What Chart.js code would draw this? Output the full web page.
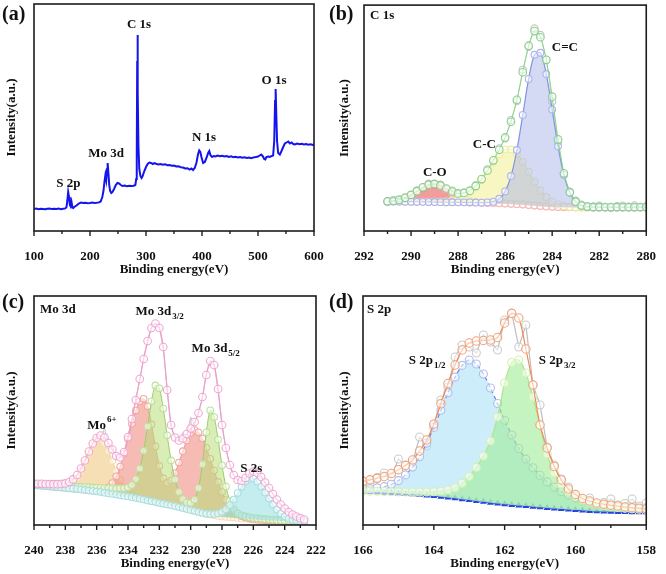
<!DOCTYPE html>
<html><head><meta charset="utf-8">
<script src="https://cdn.jsdelivr.net/npm/chart.js@4"></script>
<style>
html,body{margin:0;padding:0;background:#fff;}
#wrap{position:relative;width:666px;height:574px;background:#fff;}
canvas{position:absolute;left:0;top:0;}
</style></head><body>
<div id="wrap">
<canvas id="ca" width="666" height="574"></canvas>
<canvas id="cb" width="666" height="574"></canvas>
<canvas id="cc" width="666" height="574"></canvas>
<canvas id="cd" width="666" height="574"></canvas>
</div>
<script>
// ---------- (a) survey ----------
const surveyE = [100,104,108,112,116,120,124,128,132,136,140,144,148,152,156,158,159.5,161,162.5,164,165.5,167,168.5,170,173,176,180,184,188,192,196,200,204,208,212,216,219,222,224,226,227.5,229,230.5,231.5,233,234.5,236,238,240,243,246,249,252,255,258,262,266,270,274,278,281,282.5,283.5,284.3,284.8,285.5,286.5,288,290,292,294,297,300,303,306,309,312,315,318,322,326,330,334,338,342,346,350,354,358,362,366,370,374,378,381,384,387,390,393,395,397,399,402,405,408,411,413,415,418,421,424,428,432,436,440,444,448,452,456,460,464,468,472,476,480,484,488,492,496,500,503,506,509,511,513,515,518,521,524,527,529,530.5,531.5,532.5,534,536,539,542,545,548,551,554,557,560,563,566,570,574,578,582,586,590,594,598,600];
const surveyI = [22.0,22.4,21.8,22.3,22.0,21.7,22.2,22.5,21.9,22.2,22.0,22.4,21.8,22.3,22.6,24.0,30.0,39.0,34.0,26.0,24.5,29.0,24.0,23.0,24.5,25.5,27.5,28.5,28.0,28.3,27.8,28.0,28.4,28.0,28.2,28.6,29.5,34.0,40.0,50.0,56.0,51.0,62.0,68.0,57.0,45.0,40.0,38.0,39.0,42.0,46.0,48.0,47.5,46.0,45.0,45.5,44.8,45.2,44.9,45.3,46.0,52.0,75.0,170.0,196.0,140.0,85.0,62.0,55.0,53.0,55.0,60.0,64.0,67.0,68.5,68.0,67.0,67.8,67.2,66.5,67.0,66.2,66.8,65.8,66.0,65.2,65.5,64.5,64.8,63.8,63.5,62.5,62.8,61.5,62.5,61.0,63.0,68.0,77.0,80.5,79.0,74.0,68.0,69.0,73.0,78.0,80.0,76.0,74.0,75.0,74.5,75.5,74.8,75.3,74.5,75.0,74.0,74.6,73.8,74.3,73.5,74.0,73.2,73.8,73.0,73.5,72.8,73.6,73.9,74.5,75.5,76.5,74.5,72.0,71.5,74.0,74.5,74.0,74.8,75.5,90.0,130.0,142.0,120.0,90.0,78.0,76.5,80.0,84.0,87.5,88.5,89.5,87.5,88.5,87.0,86.5,87.5,86.8,87.2,86.5,87.0,86.3,86.8,86.0,86.4];
const ticksA = [100,200,300,400,500,600];
const minorA = [150,250,350,450,550];
const labelsA = [
  {t:'S 2p', x:161.3, y:47.7}, {t:'Mo 3d', x:228.6, y:77}, {t:'C 1s', x:287.5, y:206},
  {t:'N 1s', x:403.6, y:93.7}, {t:'O 1s', x:528.6, y:150.3}];

// ---------- (b) C 1s ----------
const eB = [291,290.75,290.5,290.25,290,289.75,289.5,289.25,289,288.75,288.5,288.25,288,287.75,287.5,287.25,287,286.75,286.5,286.25,286,285.75,285.5,285.25,285,284.75,284.5,284.25,284,283.75,283.5,283.25,283,282.75,282.5,282.25,282,281.75,281.5,281.25,281,280.75,280.5,280.25,280];
const rawB = [29.0,31.0,30.8,33.8,35.5,40.8,43.0,47.5,46.5,46.5,41.8,40.5,37.0,38.8,40.0,46.0,51.5,62.0,70.0,83.0,93.0,111.5,130.5,162.0,185.0,203.5,197.0,172.0,130.0,89.5,56.5,39.5,30.5,26.5,25.0,24.5,25.5,24.0,23.0,25.0,25.5,24.5,25.8,24.2,25.0];
const envB = [29.9,30.4,31.5,33.3,36.3,40.0,43.9,46.6,47.3,45.8,42.7,39.7,37.8,38.2,40.5,45.1,52.2,60.8,71.0,81.6,94.0,109.8,131.9,159.5,186.2,200.9,194.7,172.0,135.0,92.0,58.0,38.9,29.5,25.5,24.5,24.2,24.2,24.1,24.1,24.1,24.1,24.1,24.1,24.1,24.1];
const bgB = [29.6,29.6,29.6,29.5,29.5,29.4,29.3,29.2,29.1,29.0,28.9,28.9,28.8,28.8,28.7,28.6,28.5,28.3,28.1,27.9,27.6,27.3,27.0,26.6,26.1,25.6,25.1,24.7,24.3,24.1,23.9,23.8,23.7,23.7,23.7,23.6,23.6,23.6,23.6,23.6,23.6,23.6,23.6,23.6,23.6];
const coB = [29.9,30.4,31.5,33.3,36.3,40.0,43.8,46.4,47.0,45.3,41.9,37.9,34.3,31.7,30.0,29.1,28.7,28.4,28.1,27.9,27.6,27.3,27.0,26.6,26.1,25.6,25.1,24.7,24.3,24.1,23.9,23.8,23.7,23.7,23.7,23.6,23.6,23.6,23.6,23.6,23.6,23.6,23.6,23.6,23.6];
const ccB = [29.6,29.6,29.6,29.5,29.5,29.4,29.4,29.4,29.4,29.5,29.7,30.7,32.3,35.3,39.2,44.6,52.0,60.3,69.6,77.1,81.8,81.9,77.5,69.5,59.5,49.4,40.7,34.1,29.4,26.7,25.1,24.3,23.9,23.7,23.7,23.6,23.6,23.6,23.6,23.6,23.6,23.6,23.6,23.6,23.6];
const cdB = [29.6,29.6,29.6,29.5,29.5,29.4,29.3,29.2,29.1,29.0,28.9,28.9,28.8,28.8,28.7,28.6,28.5,28.7,29.5,32.4,39.8,55.2,81.4,116.6,152.8,177.1,179.1,157.7,122.0,85.1,56.3,38.4,29.3,25.5,24.0,23.6,23.6,23.6,23.6,23.6,23.6,23.6,23.6,23.6,23.6];
const ticksB = [292,290,288,286,284,282,280];
const minorB = [291,289,287,285,283,281];
const labelsB = [{t:'C-O', x:288.99, y:58.7}, {t:'C-C', x:286.88, y:87}, {t:'C=C', x:283.46, y:184.3}];

// ---------- (c) Mo 3d ----------
const eC = [240,239.75,239.5,239.25,239,238.75,238.5,238.25,238,237.75,237.5,237.25,237,236.75,236.5,236.25,236,235.75,235.5,235.25,235,234.75,234.5,234.25,234,233.75,233.5,233.25,233,232.75,232.5,232.25,232,231.75,231.5,231.25,231,230.75,230.5,230.25,230,229.75,229.5,229.25,229,228.75,228.5,228.25,228,227.75,227.5,227.25,227,226.75,226.5,226.25,226,225.75,225.5,225.25,225,224.75,224.5,224.25,224,223.75,223.5,223.25,223,222.75];
const rawC = [41.5,42.8,40.5,41.8,44.5,40.2,41.5,45.5,41.0,43.5,46.5,49.0,58.0,62.5,75.0,80.0,90.0,86.0,97.0,80.0,79.0,66.0,70.0,71.0,90.0,104.0,127.0,144.0,168.0,182.0,199.0,200.0,198.0,176.0,137.0,98.0,89.0,83.0,92.0,90.0,108.0,100.0,114.0,126.0,152.0,162.0,161.0,134.0,102.0,75.5,61.0,49.0,46.0,43.0,48.0,50.5,55.0,51.0,49.0,41.5,38.0,30.0,26.5,19.5,17.5,12.0,11.0,8.0,7.5,5.0];
const envC = [41.3,41.2,41.2,41.0,40.9,40.8,40.8,41.0,41.6,43.0,45.6,50.0,56.5,64.5,73.5,81.5,87.0,89.5,87.5,82.0,75.5,69.0,67.5,73.0,88.0,106.0,125.0,146.0,166.0,184.0,197.0,201.5,197.0,178.0,135.0,100.0,87.5,84.5,86.5,91.0,96.5,103.0,112.0,128.0,150.0,164.0,160.0,136.0,100.0,77.0,60.0,50.0,45.0,44.0,47.0,51.5,53.5,52.0,48.0,42.5,37.0,31.0,25.5,20.5,16.5,13.0,10.5,8.5,6.8,5.5];
const bgC = [40.0,39.6,39.3,38.9,38.5,38.1,37.8,37.4,37.0,36.6,36.3,35.9,35.5,35.0,34.5,34.0,33.5,32.9,32.3,31.6,31.0,30.4,29.8,29.1,28.5,27.8,27.0,26.3,25.5,24.6,23.8,22.9,22.0,21.3,20.5,19.8,19.0,18.0,17.0,16.0,15.0,14.0,13.0,12.0,11.0,10.4,9.8,9.1,8.5,8.1,7.8,7.4,7.0,6.6,6.3,5.9,5.5,5.3,5.0,4.8,4.5,4.4,4.3,4.1,4.0,3.9,3.8,3.6,3.5,3.4];
const mo6C = [40.0,39.6,39.3,38.9,38.5,38.2,38.0,38.0,38.4,39.7,42.5,47.0,53.7,62.1,71.3,79.6,84.9,85.8,81.9,74.0,63.9,53.7,44.9,38.0,33.3,30.1,28.0,26.7,25.7,24.6,23.8,22.9,22.0,21.3,20.5,19.8,19.0,18.0,17.0,16.0,15.0,14.0,13.0,12.0,11.0,10.4,9.8,9.1,8.5,8.1,7.8,7.4,7.0,6.6,6.3,5.9,5.5,5.3,5.0,4.8,4.5,4.4,4.3,4.1,4.0,3.9,3.8,3.6,3.5,3.4];
const redC = [40.0,39.6,39.3,38.9,38.5,38.1,37.8,37.4,37.0,36.6,36.3,35.9,35.5,35.1,34.6,34.3,34.2,34.4,35.4,37.7,41.9,48.7,58.5,71.2,86.1,101.2,114.4,123.4,126.2,118.8,100.6,78.6,59.1,46.8,42.1,44.5,52.0,62.4,73.8,84.5,92.0,94.9,92.7,86.5,77.2,66.2,54.5,43.1,33.0,24.9,18.8,14.2,11.0,8.8,7.5,6.5,5.8,5.3,5.0,4.8,4.5,4.4,4.3,4.1,4.0,3.9,3.8,3.6,3.5,3.4];
const greenC = [41.2,40.9,40.6,40.3,40.0,39.7,39.4,39.1,38.9,38.7,38.5,38.3,38.1,37.9,37.8,37.6,37.4,37.2,37.0,36.8,36.7,36.6,36.7,36.8,37.5,40.0,46.0,56.5,74.3,98.6,123.7,139.6,136.7,116.5,89.7,64.6,45.6,33.1,26.0,22.5,21.9,25.3,37.0,60.8,92.7,114.7,107.9,85.4,59.7,38.4,24.2,15.9,11.8,9.7,8.6,7.7,7.0,6.6,6.2,5.8,5.4,5.2,5.0,4.8,4.6,4.5,4.3,4.1,3.9,3.8];
const s2sC = [40.0,39.6,39.3,38.9,38.5,38.1,37.8,37.4,37.0,36.6,36.3,35.9,35.5,35.0,34.5,34.0,33.5,32.9,32.3,31.6,31.0,30.4,29.8,29.1,28.5,27.8,27.0,26.3,25.5,24.6,23.8,22.9,22.0,21.3,20.5,19.8,19.0,18.0,17.0,16.0,15.0,14.0,13.0,12.0,11.2,10.9,11.0,11.5,12.9,15.7,20.0,25.5,31.9,38.2,43.4,46.3,46.3,43.3,38.5,32.5,26.5,20.5,15.5,11.5,8.5,6.5,5.2,4.4,3.9,3.6];
const ticksC = [240,238,236,234,232,230,228,226,224,222];
const minorC = [239,237,235,233,231,229,227,225,223];
const labelsC = [
  {t:'Mo 3d', sub:'3/2', x:231.98, y:213}, {t:'Mo 3d', sub:'5/2', x:228.4, y:176.3},
  {t:'Mo', sup:'6+', x:235.66, y:99.7}, {t:'S 2s', x:226.13, y:56.3}];

// ---------- (d) S 2p ----------
const eD = [166,165.8,165.6,165.4,165.2,165,164.8,164.6,164.4,164.2,164,163.8,163.6,163.4,163.2,163,162.8,162.6,162.4,162.2,162,161.8,161.6,161.4,161.2,161,160.8,160.6,160.4,160.2,160,159.8,159.6,159.4,159.2,159,158.8,158.6,158.4,158.2,158];
const rawD = [40.0,42.0,47.5,52.0,48.0,66.0,60.0,63.0,88.0,79.0,100.0,125.0,138.0,168.0,180.0,178.0,172.0,190.0,183.0,175.0,205.0,212.0,178.0,200.0,140.0,120.0,78.0,60.0,46.0,38.0,30.0,25.0,27.0,20.0,22.5,26.0,20.0,21.5,26.0,19.0,22.0];
const envD = [43.7,45.2,46.7,48.5,51.5,55.3,59.5,65.0,74.0,85.0,101.0,121.3,141.5,160.0,175.0,182.0,184.0,184.5,185.0,187.5,202.0,211.5,207.0,176.0,140.0,100.0,77.0,58.5,45.0,36.0,30.5,26.5,24.0,22.0,20.8,19.8,19.0,18.0,17.3,16.8,16.3];
const bgD = [33.3,33.0,32.7,32.3,31.9,31.5,31.1,30.7,30.2,29.6,29.0,28.3,27.5,26.7,25.8,25.0,24.1,23.2,22.3,21.5,20.8,20.1,19.5,18.9,18.3,17.7,17.1,16.5,15.9,15.4,14.9,14.5,14.1,13.7,13.4,13.2,13.0,12.9,12.8,12.7,12.7];
const p12D = [35.9,36.3,37.1,38.4,40.7,44.4,50.1,57.9,68.5,81.9,97.6,114.8,132.2,147.9,159.6,165.0,161.0,151.0,137.0,121.5,104.8,90.0,76.5,65.9,57.3,49.7,43.1,38.0,33.4,29.9,26.9,24.5,22.4,20.7,19.4,18.4,17.5,16.9,16.4,16.0,15.7];
const p32D = [34.1,33.9,33.7,33.5,33.3,33.1,33.0,33.0,33.0,33.0,33.3,33.8,35.0,37.2,41.8,48.5,57.6,69.0,84.0,108.0,142.0,162.5,165.0,152.0,128.0,99.0,71.0,52.0,40.5,33.5,28.5,25.0,22.5,20.8,19.5,18.5,17.6,16.9,16.3,15.9,15.6];
const ticksD = [166,164,162,160,158];
const minorD = [165,163,161,159];
const labelsD = [{t:'S 2p', sub:'1/2', x:164.19, y:164.7}, {t:'S 2p', sub:'3/2', x:160.52, y:164.7}];

// ---------- helpers ----------
const SERIF = '"Liberation Serif","Times New Roman",serif';
function pts(xs, ys){ return xs.map((x,i)=>({x:x, y:ys[i]})); }

function drawRich(ctx, cx, cy, l){
  const mainF = 'bold 13px '+SERIF, smallF = 'bold 9px '+SERIF;
  ctx.font = mainF; const w1 = ctx.measureText(l.t).width;
  let w2 = 0; const extra = l.sub || l.sup;
  if (extra){ ctx.font = smallF; w2 = ctx.measureText(extra).width + 1; }
  let x0 = cx - (w1+w2)/2;
  ctx.textAlign = 'left'; ctx.textBaseline = 'middle';
  ctx.font = mainF; ctx.fillText(l.t, x0, cy);
  if (l.sub){ ctx.font = smallF; ctx.fillText(l.sub, x0+w1+1, cy+5); }
  if (l.sup){ ctx.font = smallF; ctx.fillText(l.sup, x0+w1+1, cy-6); }
}

const annot = {
  id:'annot',
  afterDraw(chart, args, o){
    const ctx = chart.ctx, ca = chart.chartArea, xs = chart.scales.x, ys = chart.scales.y;
    ctx.save();
    ctx.strokeStyle = '#1c1c1c'; ctx.lineWidth = 1.6;
    ctx.strokeRect(ca.left, ca.top, ca.right-ca.left, ca.bottom-ca.top);
    ctx.lineWidth = 1.4;
    o.major.forEach(v=>{ const p = xs.getPixelForValue(v); ctx.beginPath(); ctx.moveTo(p, ca.bottom); ctx.lineTo(p, ca.bottom+5); ctx.stroke(); });
    o.minor.forEach(v=>{ const p = xs.getPixelForValue(v); ctx.beginPath(); ctx.moveTo(p, ca.bottom); ctx.lineTo(p, ca.bottom+3); ctx.stroke(); });
    ctx.fillStyle = '#111';
    o.labels.forEach(l=> drawRich(ctx, xs.getPixelForValue(l.x), ys.getPixelForValue(l.y), l));
    if (o.title){ ctx.font = 'bold 13px '+SERIF; ctx.textAlign='left'; ctx.textBaseline='middle';
      ctx.fillText(o.title, ca.left+o.tdx, ca.top+o.tdy); }
    ctx.font = 'bold 20px '+SERIF; ctx.textAlign='left'; ctx.textBaseline='middle';
    ctx.fillText(o.letter, o.lx, o.ly);
    ctx.restore();
  }
};

function makeChart(id, p){
  const tickFont = {family:SERIF, size:13, weight:'bold'};
  return new Chart(document.getElementById(id), {
    type:'line',
    data:{datasets:p.datasets},
    plugins:[annot],
    options:{
      responsive:false, animation:false, devicePixelRatio:1, events:[],
      layout:{padding:p.pad},
      plugins:{legend:{display:false}, tooltip:{enabled:false}, annot:p.annot},
      elements:{point:{pointStyle:'circle'}},
      scales:{
        x:{type:'linear', min:p.xmin, max:p.xmax, reverse:p.reverse,
           grid:{display:false}, border:{display:false},
           afterBuildTicks:(s)=>{ s.ticks = p.ticks.map(v=>({value:v})); },
           afterFit:(s)=>{ s.height = p.xh; },
           ticks:{autoSkip:false, maxRotation:0, minRotation:0, padding:10, font:tickFont, color:'#111'},
           title:{display:true, text:'Binding energy(eV)', font:tickFont, color:'#111', padding:{top:0,bottom:p.tpad}}},
        y:{min:0, max:p.ymax, grid:{display:false}, border:{display:false},
           ticks:{display:false},
           afterFit:(s)=>{ s.width = p.yw; },
           title:{display:true, text:'Intensity(a.u.)', font:tickFont, color:'#111', padding:{top:4,bottom:0}}}
      }
    }
  });
}

function circ(color, r){ return {pointRadius:r, pointBorderColor:color, pointBackgroundColor:'rgba(255,255,255,0.55)', pointBorderWidth:1.1}; }

// ---------- (a) ----------
makeChart('ca', {
  pad:{left:0, top:4, right:352, bottom:287}, yw:34, xh:56, tpad:10,
  xmin:100, xmax:600, reverse:false, ymax:227, ticks:ticksA,
  annot:{major:ticksA, minor:minorA, labels:labelsA, letter:'(a)', lx:2, ly:15},
  datasets:[{data:pts(surveyE, surveyI), borderColor:'#1414ee', borderWidth:2, pointRadius:0, tension:0, fill:false}]
});

// ---------- (b) ----------
makeChart('cb', {
  pad:{left:333, top:4, right:17, bottom:287}, yw:31, xh:56, tpad:10,
  xmin:280, xmax:292, reverse:true, ymax:227, ticks:ticksB,
  annot:{major:ticksB, minor:minorB, labels:labelsB, letter:'(b)', lx:329, ly:15, title:'C 1s', tdx:6, tdy:11},
  datasets:[
    Object.assign({data:pts(eB, rawB), order:6, borderColor:'#d2d2d2', borderWidth:1, tension:0, fill:false}, circ('#c6c6c6',3.6)),
    Object.assign({data:pts(eB, bgB), order:5, borderColor:'#f2b6b6', borderWidth:1, tension:0.3, fill:false}, circ('#f2b2b2',3.2)),
    Object.assign({data:pts(eB, coB), order:3, borderColor:'#ee9c9c', borderWidth:1, tension:0.3, fill:1, backgroundColor:'rgba(238,118,118,0.72)'}, circ('#f5baba',3.4)),
    Object.assign({data:pts(eB, ccB), order:2, borderColor:'#e8e68a', borderWidth:1, tension:0.3, fill:1, backgroundColor:'rgba(244,242,165,0.68)'}, circ('#efed9c',3.4)),
    Object.assign({data:pts(eB, cdB), order:1, borderColor:'#7f93e2', borderWidth:1.2, tension:0.3, fill:1, backgroundColor:'rgba(170,180,234,0.5)'}, circ('#a9b5ec',3.4)),
    Object.assign({data:pts(eB, envB), order:0, borderColor:'#86d486', borderWidth:1, tension:0.3, fill:false}, circ('#86d386',3.8))
  ]
});

// ---------- (c) ----------
makeChart('cc', {
  pad:{left:0, top:296, right:350, bottom:0}, yw:34, xh:49, tpad:3,
  xmin:222, xmax:240, reverse:true, ymax:229, ticks:ticksC,
  annot:{major:ticksC, minor:minorC, labels:labelsC, letter:'(c)', lx:2, ly:303, title:'Mo 3d', tdx:6, tdy:14},
  datasets:[
    {data:pts(eC, rawC), order:7, borderColor:'#c6c6c6', borderWidth:1, pointRadius:0, tension:0, fill:false},
    {data:pts(eC, bgC), order:6, borderColor:'#7d7a3a', borderWidth:1.3, pointRadius:0, tension:0.3, fill:false},
    Object.assign({data:pts(eC, mo6C), order:4, borderColor:'#f0cf90', borderWidth:1, tension:0.3, fill:1, backgroundColor:'rgba(242,210,148,0.7)'}, circ('#f7dfb3',3.3)),
    Object.assign({data:pts(eC, redC), order:3, borderColor:'#ec968c', borderWidth:1, tension:0.3, fill:1, backgroundColor:'rgba(240,138,126,0.58)'}, circ('#f3a8a0',3.3)),
    Object.assign({data:pts(eC, greenC), order:2, borderColor:'#9ccd6a', borderWidth:1, tension:0.3, fill:1, backgroundColor:'rgba(186,222,122,0.55)'}, circ('#bce299',3.3)),
    Object.assign({data:pts(eC, s2sC), order:1, borderColor:'#84ced4', borderWidth:1, tension:0.3, fill:1, backgroundColor:'rgba(150,220,226,0.55)'}, circ('#a6e0e3',3.3)),
    Object.assign({data:pts(eC, envC), order:0, borderColor:'#f09ccc', borderWidth:1.2, tension:0.3, fill:false}, circ('#f2a6d4',3.8))
  ]
});

// ---------- (d) ----------
makeChart('cd', {
  pad:{left:333, top:296, right:12, bottom:0}, yw:30, xh:49, tpad:3,
  xmin:158, xmax:166, reverse:true, ymax:229, ticks:ticksD,
  annot:{major:ticksD, minor:minorD, labels:labelsD, letter:'(d)', lx:329, ly:303, title:'S 2p', tdx:4, tdy:14},
  datasets:[
    Object.assign({data:pts(eD, rawD), order:6, borderColor:'#bdbdbd', borderWidth:1.2, tension:0, fill:false}, circ('#cbcbcb',4)),
    {data:pts(eD, bgD), order:5, borderColor:'#2f4ae6', borderWidth:1.4, tension:0.3, fill:false, pointStyle:'triangle', pointRadius:2.6, pointBorderColor:'#2a44e0', pointBackgroundColor:'#2a44e0'},
    Object.assign({data:pts(eD, p12D), order:3, borderColor:'#6d80e0', borderWidth:1.2, borderDash:[4,3], tension:0.3, fill:1, backgroundColor:'rgba(172,226,245,0.62)'}, circ('#b1bcf0',4)),
    Object.assign({data:pts(eD, p32D), order:2, borderColor:'#b2e488', borderWidth:1.2, tension:0.3, fill:1, backgroundColor:'rgba(158,236,150,0.6)'}, circ('#d2f2ad',4)),
    Object.assign({data:pts(eD, envD), order:0, borderColor:'#f08a58', borderWidth:1.2, tension:0.3, fill:false}, circ('#f2a277',4.2))
  ]
});
</script>
</body></html>
